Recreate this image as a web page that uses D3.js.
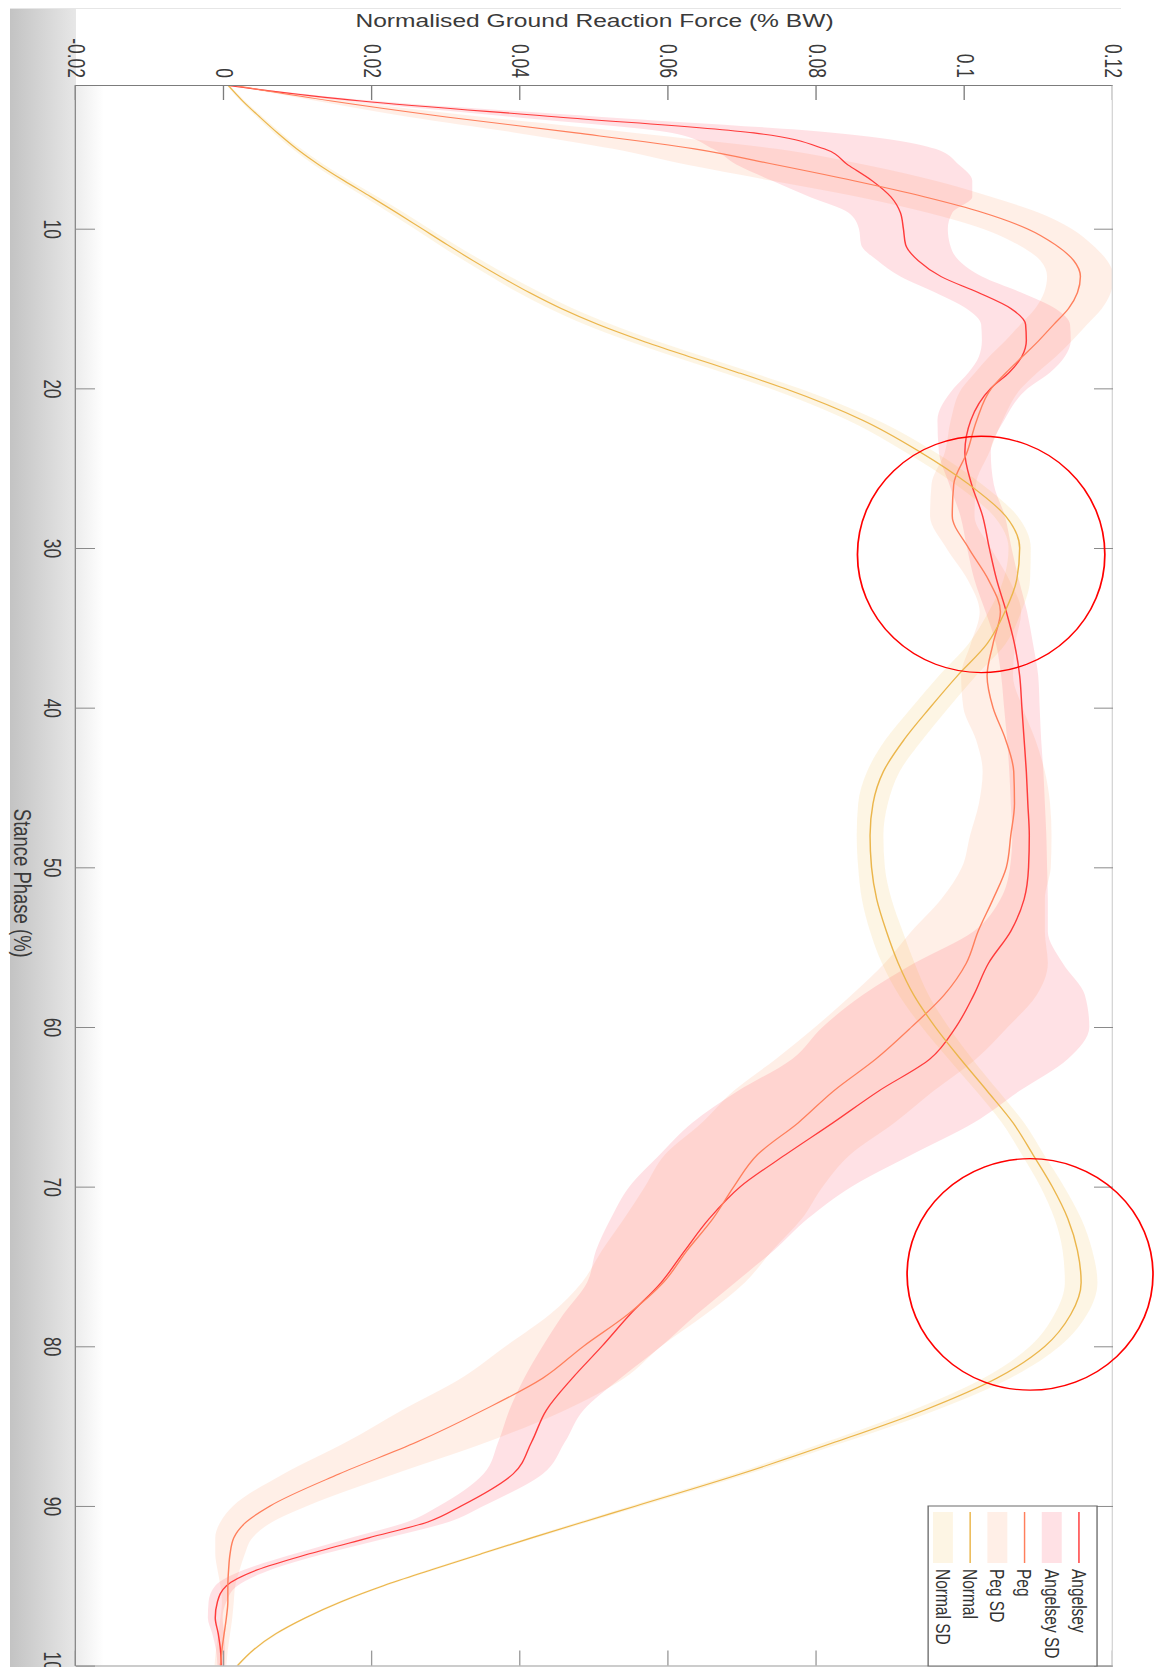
<!DOCTYPE html>
<html>
<head>
<meta charset="utf-8">
<script src="https://cdn.jsdelivr.net/npm/d3@7"></script>
<style>
  body { margin: 0; background: #fff; }
  svg { display: block; font-family: 'Liberation Sans', Arial, sans-serif; }
</style>
</head>
<body>
<div id="chart"></div>
<script>
// Stance phase (%) sample points
var phase = [1, 2, 3, 4, 5, 6, 7, 8, 9, 10, 11, 12, 13, 14, 15, 16, 17, 18, 19, 20,
  22, 24, 26, 28, 30, 32, 34, 36, 38, 40, 42, 44, 46, 48, 50, 52, 54, 56, 58, 60,
  62, 64, 66, 68, 70, 72, 74, 76, 78, 80, 82, 84, 86, 88, 90,
  91, 92, 93, 94, 95, 96, 97, 98, 99, 100]

var angelseyMean = [0.0, 0.0185, 0.045, 0.0715, 0.081, 0.0842, 0.0875, 0.09, 0.0913, 0.0917,
  0.092, 0.0937, 0.0968, 0.1018, 0.1062, 0.1082, 0.1083, 0.1077, 0.106, 0.1035,
  0.1008, 0.1, 0.1009, 0.1024, 0.1033, 0.1043, 0.1056, 0.1067, 0.1074, 0.1077,
  0.108, 0.1083, 0.1085, 0.1087, 0.1086, 0.108, 0.1062, 0.1032, 0.1012, 0.0988,
  0.0953, 0.0884, 0.0822, 0.0758, 0.0697, 0.0655, 0.0622, 0.059, 0.0548, 0.051,
  0.047, 0.0435, 0.0415, 0.039, 0.032,
  0.0275, 0.0195, 0.0115, 0.0045, 0.0003, -0.0009, -0.0012, -0.0008, -0.0005, -0.0004]
var angelseySd = [0.0005, 0.002, 0.006, 0.011, 0.015, 0.015, 0.0135, 0.011, 0.007, 0.006,
  0.006, 0.0055, 0.0055, 0.0058, 0.006, 0.006, 0.006, 0.0058, 0.0055, 0.005,
  0.0045, 0.0035, 0.003, 0.003, 0.003, 0.003, 0.0028, 0.0025, 0.0025, 0.0024,
  0.0023, 0.0023, 0.0023, 0.0023, 0.0025, 0.0032, 0.005, 0.01, 0.015, 0.018,
  0.0186, 0.019, 0.019, 0.017, 0.015, 0.0133, 0.012, 0.01, 0.009, 0.008,
  0.0065, 0.005, 0.0045, 0.004, 0.003,
  0.0028, 0.0025, 0.002, 0.0018, 0.0015, 0.0012, 0.001, 0.0008, 0.0006, 0.0005]

var pegMean = [0.001, 0.0145, 0.03, 0.0475, 0.0635, 0.0745, 0.085, 0.0945, 0.1025, 0.1084,
  0.1122, 0.1147, 0.1156, 0.1152, 0.114, 0.112, 0.11, 0.1078, 0.1056, 0.1036,
  0.1016, 0.1003, 0.0985, 0.0983, 0.1005, 0.1032, 0.1048, 0.1038, 0.103, 0.1038,
  0.1055, 0.1066, 0.1067, 0.1062, 0.1056, 0.1038, 0.1018, 0.1002, 0.0972, 0.0928,
  0.088, 0.0823, 0.0775, 0.072, 0.0688, 0.066, 0.0625, 0.0593, 0.0545, 0.0485,
  0.043, 0.035, 0.026, 0.0155, 0.0062,
  0.003, 0.0013, 0.0008, 0.0006, 0.0005, 0.0005, 0.0003, 0.0, -0.0003, -0.0005]
var pegSd = [0.0005, 0.002, 0.005, 0.008, 0.011, 0.012, 0.011, 0.009, 0.0075, 0.006,
  0.005, 0.0045, 0.0045, 0.0045, 0.0045, 0.0045, 0.0045, 0.0045, 0.0042, 0.004,
  0.0035, 0.003, 0.003, 0.003, 0.003, 0.0028, 0.0028, 0.003, 0.0035, 0.004,
  0.004, 0.0042, 0.0048, 0.0055, 0.006, 0.007, 0.009, 0.011, 0.0125, 0.013,
  0.0135, 0.0135, 0.013, 0.0125, 0.012, 0.012, 0.0115, 0.011, 0.0105, 0.0105,
  0.011, 0.011, 0.0095, 0.0075, 0.005,
  0.0035, 0.0025, 0.002, 0.0015, 0.001, 0.0008, 0.0008, 0.0008, 0.0008, 0.0008]

var normalMean = [0.0005, 0.0025, 0.0048, 0.0072, 0.0098, 0.0128, 0.0162, 0.0198, 0.0233, 0.0267,
  0.0301, 0.0336, 0.0373, 0.0412, 0.0455, 0.0505, 0.0563, 0.0627, 0.0693, 0.0756,
  0.0862, 0.094, 0.1005, 0.1055, 0.1074, 0.107, 0.1054, 0.103, 0.099, 0.0953,
  0.0918, 0.089, 0.0876, 0.0872, 0.0874, 0.0881, 0.0894, 0.091, 0.0931, 0.096,
  0.0994, 0.103, 0.1065, 0.1092, 0.1118, 0.1139, 0.1152, 0.1157, 0.1143, 0.1108,
  0.1043, 0.0945, 0.0825, 0.0697, 0.0556,
  0.0485, 0.0415, 0.0347, 0.028, 0.0215, 0.0158, 0.011, 0.007, 0.004, 0.0018]
var normalSd = [0.0002, 0.0003, 0.0004, 0.0005, 0.0006, 0.0007, 0.0008, 0.0009, 0.001, 0.001,
  0.0011, 0.0012, 0.0013, 0.0015, 0.0016, 0.0018, 0.0019, 0.002, 0.002, 0.002,
  0.002, 0.002, 0.0018, 0.0016, 0.0015, 0.0018, 0.0022, 0.0025, 0.0025, 0.0025,
  0.0025, 0.0022, 0.002, 0.0018, 0.0018, 0.002, 0.0022, 0.0022, 0.002, 0.0018,
  0.0016, 0.0015, 0.0015, 0.0015, 0.0016, 0.0018, 0.002, 0.0022, 0.0022, 0.002,
  0.0018, 0.0016, 0.0013, 0.001, 0.0008,
  0.0007, 0.0006, 0.0005, 0.0005, 0.0004, 0.0004, 0.0003, 0.0003, 0.0002, 0.0002]

var forceTicks = [-0.02, 0, 0.02, 0.04, 0.06, 0.08, 0.1, 0.12]
var phaseTicks = [10, 20, 30, 40, 50, 60, 70, 80, 90, 100]
var legendLabels = ['Angelsey', 'Angelsey SD', 'Peg', 'Peg SD', 'Normal', 'Normal SD']

// red hand-drawn rings (centre and radii in data units)
var ringPhase = [30.4, 75.5]
var ringForce = [0.1022, 0.1088]
var ringPhaseRadius = [7.4, 7.25]
var ringForceRadius = [0.0167, 0.0166]

var totalWidth = 1155
var totalHeight = 1667

// The figure is a MATLAB plot turned 90 degrees clockwise and stretched sideways
var stretch = 1.33
var origin = { x: 1113, y: 85 }
var width = 1580.6 // phase axis, runs down the page
var height = 1037 / stretch // force axis, runs to the right

var svg = d3
  .select('#chart')
  .append('svg')
  .attr('width', totalWidth)
  .attr('height', totalHeight)

var defs = svg.append('defs')
var strip = defs.append('linearGradient').attr('id', 'strip')
strip.append('stop').attr('offset', 0).attr('stop-color', '#c3c3c3')
strip.append('stop').attr('offset', 1).attr('stop-color', '#e7e7e7')
var inner = defs.append('linearGradient').attr('id', 'inner')
inner.append('stop').attr('offset', 0).attr('stop-color', '#ededed')
inner.append('stop').attr('offset', 1).attr('stop-color', '#ffffff')

// figure background
svg.append('rect').attr('width', totalWidth).attr('height', totalHeight).attr('fill', '#fff')
svg
  .append('line')
  .attr('x1', 10)
  .attr('x2', 1121)
  .attr('y1', 8.5)
  .attr('y2', 8.5)
  .attr('stroke', '#e6e6e6')
svg
  .append('rect')
  .attr('x', 10)
  .attr('y', 9)
  .attr('width', 66)
  .attr('height', totalHeight)
  .attr('fill', 'url(#strip)')
svg
  .append('rect')
  .attr('x', 76)
  .attr('y', 85)
  .attr('width', 28)
  .attr('height', totalHeight)
  .attr('fill', 'url(#inner)')

var g = svg
  .append('g')
  .attr('transform', `translate(${origin.x},${origin.y}) scale(${stretch},1) rotate(90)`)

var xPositionScale = d3
  .scaleLinear()
  .domain([1, 100])
  .range([0, width])
var yPositionScale = d3
  .scaleLinear()
  .domain([-0.02, 0.12])
  .range([height, 0])

g.append('clipPath')
  .attr('id', 'plot-clip')
  .append('rect')
  .attr('width', width)
  .attr('height', height)

var series = [
  { mean: angelseyMean, sd: angelseySd, line: '#ff3b3b', fill: '#ff1a35', opacity: 0.13 },
  { mean: pegMean, sd: pegSd, line: '#ff7f5c', fill: '#ff7a3d', opacity: 0.12 },
  { mean: normalMean, sd: normalSd, line: '#ebb64c', fill: '#eeb530', opacity: 0.13 }
]
series.forEach(function(s) {
  s.values = phase.map((p, i) => ({ phase: p, mean: s.mean[i], sd: s.sd[i] }))
})

var area = d3
  .area()
  .x(d => xPositionScale(d.phase))
  .y0(d => yPositionScale(d.mean - d.sd))
  .y1(d => yPositionScale(d.mean + d.sd))
  .curve(d3.curveMonotoneX)

var line = d3
  .line()
  .x(d => xPositionScale(d.phase))
  .y(d => yPositionScale(d.mean))
  .curve(d3.curveMonotoneX)

var plot = g.append('g').attr('clip-path', 'url(#plot-clip)')

// SD bands first, mean lines on top
plot
  .selectAll('.band')
  .data(series)
  .enter()
  .append('path')
  .attr('class', 'band')
  .attr('d', d => area(d.values))
  .attr('fill', d => d.fill)
  .attr('fill-opacity', d => d.opacity)

plot
  .selectAll('.mean-line')
  .data(series)
  .enter()
  .append('path')
  .attr('class', 'mean-line')
  .attr('d', d => line(d.values))
  .attr('fill', 'none')
  .attr('stroke', d => d.line)
  .attr('stroke-width', 1.1)

// axes, MATLAB style with inward ticks on all four sides
var formatForce = d => String(+d.toFixed(2))

var leftAxis = g
  .append('g')
  .attr('class', 'axis')
  .call(
    d3
      .axisLeft(yPositionScale)
      .tickValues(forceTicks)
      .tickFormat(formatForce)
      .tickSizeInner(-15)
      .tickSizeOuter(0)
      .tickPadding(7)
  )
var rightAxis = g
  .append('g')
  .attr('class', 'axis')
  .attr('transform', `translate(${width},0)`)
  .call(
    d3
      .axisRight(yPositionScale)
      .tickValues(forceTicks)
      .tickFormat('')
      .tickSizeInner(-15)
      .tickSizeOuter(0)
  )
var bottomAxis = g
  .append('g')
  .attr('class', 'axis')
  .attr('transform', `translate(0,${height})`)
  .call(
    d3
      .axisBottom(xPositionScale)
      .tickValues(phaseTicks)
      .tickSizeInner(-14.3)
      .tickSizeOuter(0)
      .tickPadding(12)
  )
var topAxis = g
  .append('g')
  .attr('class', 'axis')
  .call(
    d3
      .axisTop(xPositionScale)
      .tickValues(phaseTicks)
      .tickFormat('')
      .tickSizeInner(-14.3)
      .tickSizeOuter(0)
  )

g.selectAll('.axis')
  .attr('font-family', null)
  .attr('font-size', 17.5)
g.selectAll('.axis text').attr('fill', '#3a3a3a')
leftAxis.selectAll('path, line').attr('stroke', '#7c7c7c')
bottomAxis.selectAll('path, line').attr('stroke', '#8a8a8a')
rightAxis.selectAll('path, line').attr('stroke', '#9a9a9a')
topAxis.selectAll('path').attr('stroke', '#d6d6d6')
topAxis.selectAll('line').attr('stroke', '#8a8a8a')

// axis titles
g.append('text')
  .attr('transform', `translate(-58,${height / 2}) rotate(-90)`)
  .attr('text-anchor', 'middle')
  .attr('font-size', 18.5)
  .attr('fill', '#3a3a3a')
  .text('Normalised Ground Reaction Force (% BW)')

g.append('text')
  .attr('x', width / 2 + 8)
  .attr('y', height + 47)
  .attr('text-anchor', 'middle')
  .attr('font-size', 18.5)
  .attr('fill', '#3a3a3a')
  .text('Stance Phase (%)')

// legend in the (original) top right corner
var legend = g.append('g').attr('transform', 'translate(1421,12)')
legend
  .append('rect')
  .attr('width', 160)
  .attr('height', 127)
  .attr('fill', '#fff')
  .attr('stroke', '#6a6a6a')
  .attr('stroke-width', 1)

var legendItems = legend
  .selectAll('.legend-item')
  .data(legendLabels)
  .enter()
  .append('g')
  .attr('class', 'legend-item')
  .attr('transform', (d, i) => `translate(0,${13.6 + i * 20.45})`)

legendItems.each(function(d, i) {
  var item = d3.select(this)
  var s = series[Math.floor(i / 2)]
  if (i % 2 === 0) {
    item
      .append('line')
      .attr('x1', 6)
      .attr('x2', 57)
      .attr('stroke', s.line)
      .attr('stroke-width', 1.1)
  } else {
    item
      .append('rect')
      .attr('x', 6)
      .attr('y', -7.5)
      .attr('width', 51)
      .attr('height', 15)
      .attr('fill', s.fill)
      .attr('fill-opacity', s.opacity)
  }
  item
    .append('text')
    .attr('x', 63)
    .attr('dy', '0.35em')
    .attr('font-size', 15.5)
    .attr('fill', '#333')
    .text(d)
})

// red rings drawn over the figure
g.selectAll('.ring')
  .data(ringPhase)
  .enter()
  .append('ellipse')
  .attr('class', 'ring')
  .attr('cx', d => xPositionScale(d))
  .attr('cy', (d, i) => yPositionScale(ringForce[i]))
  .attr('rx', (d, i) => xPositionScale(d + ringPhaseRadius[i]) - xPositionScale(d))
  .attr('ry', (d, i) => yPositionScale(ringForce[i] - ringForceRadius[i]) - yPositionScale(ringForce[i]))
  .attr('fill', 'none')
  .attr('stroke', '#ff0000')
  .attr('stroke-width', 1.3)
</script>
</body>
</html>
